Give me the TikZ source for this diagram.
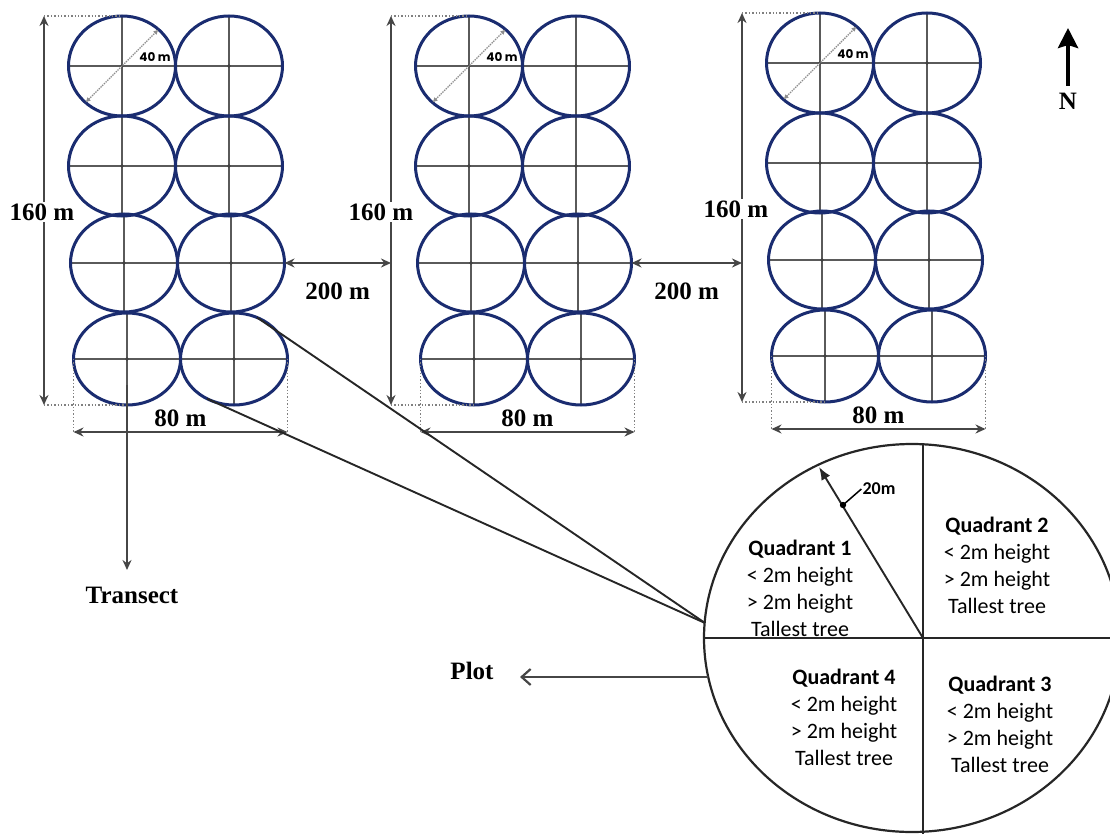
\documentclass[tikz,border=0pt]{standalone}
\usepackage{fontspec}
\setmainfont{Liberation Serif}
\newfontfamily\qfont{Carlito}
\newfontfamily\gfont{Poppins}
\usetikzlibrary{shapes.geometric,arrows.meta}
\pgfdeclarelayer{bg}
\pgfsetlayers{bg,main}
\definecolor{ringblue}{RGB}{26,44,112}
\definecolor{xhair}{RGB}{90,90,90}
\definecolor{dimc}{RGB}{70,70,70}
\tikzset{
  plotc/.style={ellipse, draw=ringblue, line width=3pt, inner sep=0pt, outer sep=0pt},
  xline/.style={draw=xhair, line width=1.5pt},
  dimline/.style={draw=dimc, line width=1.7pt, {Stealth[length=10pt,width=9pt]}-{Stealth[length=10pt,width=9pt]}},
  dotl/.style={draw=gray, line width=1.4pt, dotted},
  lbl/.style={font=\fontsize{25}{30}\selectfont\bfseries, inner sep=2pt},
  qline/.style={draw=black!85, line width=1.9pt},
  qtext/.style={font=\qfont\fontsize{22}{27}\selectfont, align=center, inner sep=0pt},
}
\newcommand{\plotgrid}[4]{%
  \foreach \r/\cy/\ry/\sh in {1/50/100/0, 2/150/100/0, 3/247/98/2, 4/343/92/5}{
    \foreach \c/\cx in {1/53, 2/160}{
      \node[plotc, minimum width=107pt, minimum height=\ry pt] (#1-\r-\c) at (#2+\cx+\sh, #3+\cy) {};
      \begin{pgfonlayer}{bg}
        \draw[xline] (#1-\r-\c.west) -- (#1-\r-\c.east);
        \draw[xline] (#1-\r-\c.north) -- (#1-\r-\c.south);
        \fill[black!75] (#1-\r-\c.center) circle (1.8pt);
      \end{pgfonlayer}
    }
  }
  \coordinate (#1-dt) at (#2-25, #3);
  \coordinate (#1-db) at (#2-25, #3+389);
  \draw[dimline] (#1-db) -- (#1-dt);
  \node[lbl, fill=white] at (#4, #3+196) {160 m};
  \draw[dotl] (#1-dt) -- (#1-1-1.north);
  \draw[dotl] (#1-db) -- (#1-4-1.south);
  \path (#1-4-1.west) ++(0,73) coordinate (#1-bl);
  \path (#1-4-2.east) ++(0,73) coordinate (#1-br);
  \draw[dotl] (#1-4-1.west) -- (#1-bl);
  \draw[dotl] (#1-4-2.east) -- (#1-br);
  \draw[dimline] (#1-bl) -- (#1-br) node[midway, yshift=14pt, lbl] {80 m};
  \draw[draw=gray!90, line width=1.4pt, densely dotted, {Latex[length=5pt,width=5pt]}-{Latex[length=5pt,width=5pt]}] (#1-1-1.225) -- (#1-1-1.45);
  \node[font=\gfont\bfseries\fontsize{12}{14}\selectfont, inner sep=1pt] at (#2+86, #3+41) {40 m};
}
\begin{document}
\begin{tikzpicture}[x=1pt,y=-1pt]
\useasboundingbox (0,0) rectangle (1110,834);
\clip (0,0) rectangle (1110,834);

% grids
\plotgrid{g1}{69}{16}{42}
\plotgrid{g2}{416}{16}{381}
\plotgrid{g3}{767}{13}{736}

% 200 m spacings
\draw[dimline] (g1-3-2.east) -- (g1-3-2.east -| g2-dt) node[midway, yshift=-28pt, lbl] {200 m};
\draw[dimline] (g2-3-2.east) -- (g2-3-2.east -| g3-dt) node[midway, yshift=-28pt, lbl] {200 m};

% transect
\path (g1-4-1.south) ++(0,-20) coordinate (ts);
\coordinate (te) at (127,570);
\draw[draw=dimc, line width=1.9pt, -{Stealth[length=10pt,width=9pt]}] (ts) -- (te);
\node[lbl] (transect) at (132,595) {Transect};

% north arrow
\coordinate (nb) at (1068,86);
\coordinate (nt) at (1068,28);
\draw[line width=4.5pt, -{Stealth[length=20pt,width=20pt,inset=3pt]}] (nb) -- (nt);
\node[lbl] (north) at (1068,101) {N};

% plot circle
\node[ellipse, draw=black!85, line width=2.2pt, minimum width=416pt, minimum height=388pt, inner sep=0pt, outer sep=0pt] (plot) at (912,638) {};
\coordinate (qc) at (923,638);
\coordinate (vt) at (923,444);
\coordinate (vb) at (923,834);
\draw[qline, line width=2.4pt] (vt) -- (vb);
\draw[qline, line width=2.4pt] (plot.west) -- (plot.east);

% zoom lines
\coordinate (zt) at (705,623);
\draw[qline] (g1-4-2.61) -- (zt);
\draw[qline] (g1-4-2.236) -- (zt);

% radius
\coordinate (rtip) at (819,467);
\coordinate (rdot) at (843,505);
\draw[qline, -{Latex[length=13pt,width=10pt]}] (qc) -- (rtip);
\fill[black] (rdot) circle (3.2pt);
\node[font=\qfont\bfseries\fontsize{18}{20}\selectfont, inner sep=1pt] (r20) at (879,489) {20m};
\draw[line width=1.5pt] (rdot) -- (r20.west);

% quadrant texts
\node[qtext] (q1) at (800,588) {\textbf{Quadrant 1}\\< 2m height\\> 2m height\\Tallest tree};
\node[qtext] (q2) at (997,565) {\textbf{Quadrant 2}\\< 2m height\\> 2m height\\Tallest tree};
\node[qtext] (q4) at (844,717) {\textbf{Quadrant 4}\\< 2m height\\> 2m height\\Tallest tree};
\node[qtext] (q3) at (1000,724) {\textbf{Quadrant 3}\\< 2m height\\> 2m height\\Tallest tree};

% plot arrow
\coordinate (pa) at (708,677);
\coordinate (pe) at (520,677);
\draw[draw=dimc, line width=2.2pt, -{Straight Barb[length=9pt,width=16pt]}] (pa) -- (pe);
\node[lbl] (plotlbl) at (472,671) {Plot};
\end{tikzpicture}
\end{document}
